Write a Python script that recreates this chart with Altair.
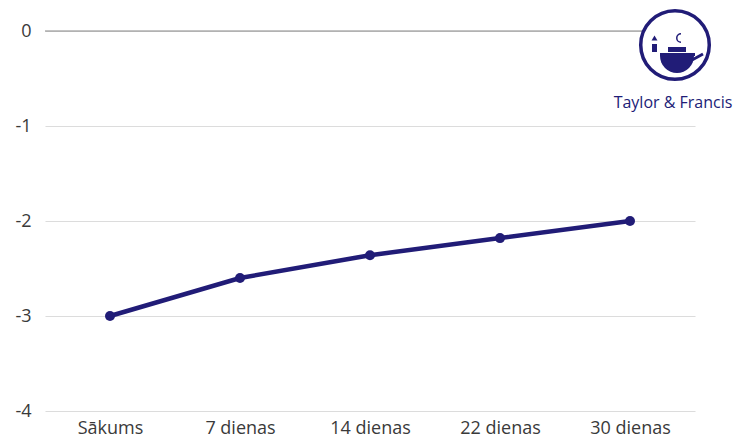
import altair as alt
import pandas as pd
import math

categories = ["Sākums", "7 dienas", "14 dienas", "22 dienas", "30 dienas"]
values = [-3.0, -2.6, -2.36, -2.18, -2.0]
y_ticks = [0, -1, -2, -3, -4]

df = pd.DataFrame({"cat": categories, "val": values})

NAVY = "#211c77"
FONT = "Open Sans"
W, H = 650, 380

x = alt.X("cat:N", sort=categories,
          scale=alt.Scale(type="point", padding=0.5),
          axis=alt.Axis(title=None, labelAngle=0, domain=False, ticks=False,
                        labelFontSize=18, labelColor="#3a3a3a", labelFont=FONT,
                        labelPadding=8, grid=False))
y = alt.Y("val:Q", scale=alt.Scale(domain=[-4, 0], nice=False),
          axis=alt.Axis(title=None, values=y_ticks, domain=False, ticks=False,
                        labelFontSize=18, labelColor="#3a3a3a", labelFont=FONT,
                        labelPadding=14, grid=True, gridColor="#dcdcdc",
                        gridWidth=1.2, labelExpr="'' + datum.value"))

base = alt.Chart(df)
line = base.mark_line(color=NAVY, strokeWidth=4.5).encode(x=x, y=y)
pts = base.mark_circle(color=NAVY, size=100, opacity=1).encode(x=x, y=y)

zero = alt.Chart(pd.DataFrame({"z": [0]})).mark_rule(color="#888", strokeWidth=1.2).encode(
    y=alt.Y("z:Q"))

# Taylor & Francis logo (decoration)
one = pd.DataFrame({"a": [0]})
logo_bg = alt.Chart(one).mark_point(
    shape="circle", filled=True, color="white", size=4700, opacity=1
).encode(x=alt.value(630), y=alt.value(14))
logo_ring = alt.Chart(one).mark_point(
    shape="circle", filled=False, color=NAVY, strokeWidth=3.5, size=4700, opacity=1
).encode(x=alt.value(630), y=alt.value(14))
bowl = alt.Chart(one).mark_arc(color=NAVY, radius=17).encode(
    x=alt.value(632), y=alt.value(25),
    theta=alt.value(math.pi / 2), theta2=alt.value(3 * math.pi / 2))
plate = alt.Chart(one).mark_rect(color=NAVY).encode(
    x=alt.value(615), x2=alt.value(650), y=alt.value(22), y2=alt.value(25))
handle = alt.Chart(one).mark_rule(color=NAVY, strokeWidth=3).encode(
    x=alt.value(647), x2=alt.value(658), y=alt.value(29), y2=alt.value(23))
lid = alt.Chart(one).mark_rect(color=NAVY).encode(
    x=alt.value(623), x2=alt.value(641), y=alt.value(16), y2=alt.value(21))
candle = alt.Chart(one).mark_rect(color=NAVY).encode(
    x=alt.value(607), x2=alt.value(612), y=alt.value(13), y2=alt.value(21))
flame = alt.Chart(one).mark_point(
    shape="triangle-up", filled=True, color=NAVY, size=35, opacity=1
).encode(x=alt.value(609.5), y=alt.value(7))
steam = alt.Chart(one).mark_arc(color=NAVY, radius=5, radius2=3.5).encode(
    x=alt.value(636), y=alt.value(7),
    theta=alt.value(math.pi), theta2=alt.value(2 * math.pi))
logo_text = alt.Chart(pd.DataFrame({"t": ["Taylor & Francis"]})).mark_text(
    color=NAVY, fontSize=16, font=FONT, align="center", baseline="middle"
).encode(x=alt.value(628), y=alt.value(72), text="t:N")

chart = alt.layer(line, zero, pts, logo_bg, logo_ring, bowl, plate, handle, lid,
                  candle, flame, steam, logo_text).properties(
    width=W, height=H,
    autosize=alt.AutoSizeParams(type="none"),
    padding={"left": 37, "top": 23, "right": 41, "bottom": 27},
).configure(background="white").configure_view(strokeWidth=0)

chart.save("out.html", embed_options={"renderer": "svg", "actions": False})
